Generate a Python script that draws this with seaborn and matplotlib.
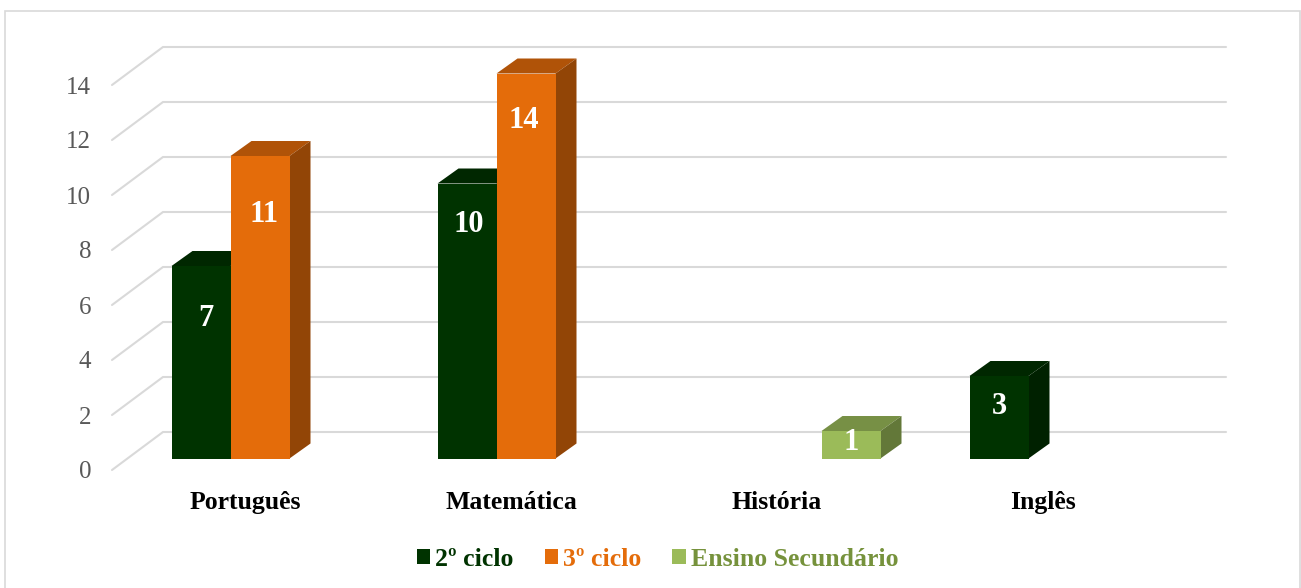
import pandas as pd
import matplotlib.pyplot as plt
import matplotlib.transforms as mtrans
from matplotlib.patches import Polygon, Rectangle
from matplotlib.colors import to_rgb
import seaborn as sns

# valores
disciplinas = ['Português', 'Matemática', 'História', 'Inglês']
ciclos = ['2º ciclo', '3º ciclo', 'Ensino Secundário']
ciclo_2 = [7, 10, None, 3]
ciclo_3 = [11, 14, None, None]
secundario = [None, None, 1, None]
y_ticks = [0, 2, 4, 6, 8, 10, 12, 14]

cores = ['#003300', '#E46C0A', '#9BBB59']
cores_texto = ['#003300', '#E46C0A', '#76923C']

# ajuste fino dos rotulos em pixels: valor -> (dx, distancia abaixo do topo)
ajuste_rotulos = {7: (5, 52), 11: (4, 58), 10: (1.5, 41), 14: (-2, 47), 1: (0, 11), 3: (0, 30)}

linhas = []
for nome, serie in zip(ciclos, [ciclo_2, ciclo_3, secundario]):
    for disc, v in zip(disciplinas, serie):
        if v is not None:
            linhas.append({'Disciplina': disc, 'Ciclo': nome, 'Valor': v})
df = pd.DataFrame(linhas)

sns.set_theme(style='white')
plt.rcParams['font.family'] = ['Liberation Serif', 'DejaVu Serif']

W, H = 1301, 588
PX_CAT = 266  # pixels por categoria
PX_UN = 27.5  # pixels por unidade
X0 = 260      # pixel da categoria 0
Y0 = 458.5    # pixel do valor 0


def px_x(p):
    return (p - X0) / PX_CAT


def px_y(p):
    return (Y0 - p) / PX_UN


fig = plt.figure(figsize=(W / 100, H / 100), dpi=100)
esq, dir_, topo, base = 112, 1226, 40, 470
ax = fig.add_axes([esq / W, 1 - base / H, (dir_ - esq) / W, (base - topo) / H])

sns.barplot(data=df, x='Disciplina', y='Valor', hue='Ciclo', order=disciplinas, hue_order=ciclos,
            palette=cores, width=59 * 3 / PX_CAT, gap=0, saturation=1, ax=ax, zorder=3,
            linewidth=0, edgecolor='none')

ax.set_xlim(px_x(esq), px_x(dir_))
ax.set_ylim(px_y(base), px_y(topo))
ax.set_xlabel('')
ax.set_ylabel('')
sns.despine(ax=ax, left=True, bottom=True)

# linhas de grade em perspectiva
for v in y_ticks:
    ax.plot([px_x(112), px_x(163), px_x(1226)],
            [v + px_y(470), v + px_y(432), v + px_y(432)],
            color='#D9D9D9', lw=1.5, zorder=1, clip_on=False, solid_joinstyle='miter')

# faces de cima e lateral das barras
dx = 21 / PX_CAT
dy = 15 / PX_UN
for cont, cor in zip(ax.containers, cores):
    r, g, b = to_rgb(cor)
    for bar in cont:
        h = bar.get_height()
        if not h == h:
            continue
        x0 = bar.get_x()
        x1 = x0 + bar.get_width()
        ax.add_patch(Polygon([(x0, h), (x1, h), (x1 + dx, h + dy), (x0 + dx, h + dy)],
                             facecolor=(r * 0.77, g * 0.77, b * 0.77), edgecolor='none', zorder=2.5))
        ax.add_patch(Polygon([(x1, 0), (x1 + dx, dy), (x1 + dx, h + dy), (x1, h)],
                             facecolor=(r * 0.64, g * 0.64, b * 0.64), edgecolor='none', zorder=2.5))
        ajuste = ajuste_rotulos[int(h)]
        ax.annotate(str(int(h)), xy=((x0 + x1) / 2, h),
                    xytext=(ajuste[0] * 0.72, -ajuste[1] * 0.72), textcoords='offset points',
                    ha='center', va='center', color='white', fontsize=22, fontweight='bold', zorder=5)

ax.set_yticks(y_ticks)
ax.set_xticks(range(len(disciplinas)))
ax.set_xticklabels(disciplinas, fontsize=18.5, fontweight='bold', color='black')
ax.set_yticklabels([str(v) for v in y_ticks], fontsize=18, color='#595959')
ax.tick_params(axis='y', length=0, pad=15)
ax.tick_params(axis='x', length=0, pad=15)

desl_y = mtrans.ScaledTranslation(0, -11.5 / 100, fig.dpi_scale_trans)
for lab in ax.get_yticklabels():
    lab.set_transform(lab.get_transform() + desl_y)
desl_x = mtrans.ScaledTranslation(-15 / 100, 0, fig.dpi_scale_trans)
for lab in ax.get_xticklabels():
    lab.set_transform(lab.get_transform() + desl_x)

# legenda
handles, labels = ax.get_legend_handles_labels()
leg = ax.legend(handles, labels, loc='center', ncol=3, frameon=False,
                bbox_to_anchor=(657.5 / W, 1 - 559 / H), bbox_transform=fig.transFigure,
                prop={'size': 18.5, 'weight': 'bold'}, handlelength=0.52, handleheight=0.52,
                handletextpad=0.2, columnspacing=1.2, borderpad=0, borderaxespad=0)
for txt, cor in zip(leg.get_texts(), cores_texto):
    txt.set_color(cor)

# moldura do grafico
fig.add_artist(Rectangle((5 / W, -0.02), 1295 / W, 1.02 - 11 / H, transform=fig.transFigure,
                         facecolor='none', edgecolor='#D9D9D9', lw=1.2, zorder=0))

fig.savefig('out.png', dpi=100)
